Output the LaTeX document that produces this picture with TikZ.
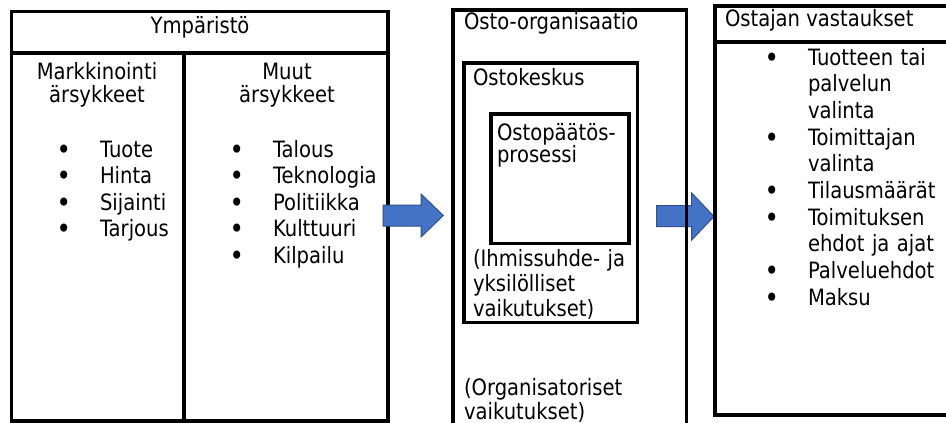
\documentclass[tikz,border=0pt]{standalone}
\usepackage{fontspec}
\setmainfont{DejaVu Sans}[FakeStretch=0.87]
\definecolor{arrowfill}{HTML}{4472C4}
\definecolor{arrowline}{HTML}{2F528F}
\newcommand\bul{\llap{\raisebox{-2pt}{\fontsize{28}{0}\selectfont •}\hspace{29pt}}}
\begin{document}
\begin{tikzpicture}[x=1pt,y=-1pt,
  box/.style={draw=black,line width=3.2pt},
  txt/.style={inner sep=0pt,outer sep=0pt,font=\fontsize{22.5}{22.7}\selectfont},
  lst/.style={txt,anchor=base west,text width=150pt,align=left,font=\fontsize{22.5}{26.7}\selectfont},
  blockarrow/.style={fill=arrowfill,draw=arrowline,line width=1pt}]
\useasboundingbox[fill=white] (0,0) rectangle (946,423);
% left box
\draw[box] (11.5,11.5) rectangle (388,421);
\draw[box] (11.5,53) -- (388,53);
\draw[box] (184,53) -- (184,421);
\node[txt,anchor=base] (ymp) at (200,33) {Ympäristö};
\node[txt,anchor=base,text width=160pt,align=center] (mark) at (97,79.3) {Markkinointi\\ärsykkeet};
\node[txt,anchor=base,text width=160pt,align=center] (muut) at (287,79.3) {Muut\\ärsykkeet};
\node[lst] (l1) at (100,157) {\bul Tuote};
\node[lst] (l2) at (100,183.5) {\bul Hinta};
\node[lst] (l3) at (100,210) {\bul Sijainti};
\node[lst] (l4) at (100,236.5) {\bul Tarjous};
\node[lst] (r1) at (273,157) {\bul Talous};
\node[lst] (r2) at (273,183.5) {\bul Teknologia};
\node[lst] (r3) at (273,210) {\bul Politiikka};
\node[lst] (r4) at (273,236.5) {\bul Kulttuuri};
\node[lst] (r5) at (273,263) {\bul Kilpailu};
% arrow 1
\draw[blockarrow] (383,205) -- (421,205) -- (421,194) -- (443.3,215.5) -- (421,237) -- (421,226) -- (383,226) -- cycle;
% arrow 2 (below middle box edge)
\draw[blockarrow] (656.7,205.7) -- (691.7,205.7) -- (691.7,193) -- (714,216.5) -- (691.7,240) -- (691.7,226.7) -- (656.7,226.7) -- cycle;
% middle box
\draw[box] (453,440) -- (453,10) -- (686.5,10) -- (686.5,440);
\node[txt,anchor=base west] (osto) at (464,30) {Osto-organisaatio};
\draw[box] (464,63) rectangle (637.5,322.5);
\node[txt,anchor=base west] (keskus) at (473,85) {Ostokeskus};
\draw[box] (491,114) rectangle (629,243.5);
\node[txt,anchor=base west,text width=130pt,align=left] (paatos) at (497,140) {Ostopäätös-\\prosessi};
\node[txt,anchor=base west,text width=165pt,align=left,font=\fontsize{22.5}{25}\selectfont] (ihm) at (473,266.7) {(Ihmissuhde- ja\\yksilölliset\\vaikutukset)};
\node[txt,anchor=base west,text width=200pt,align=left,font=\fontsize{22.5}{24}\selectfont] (org) at (464,395) {(Organisatoriset\\vaikutukset)};
% right box
\draw[box] (960,6) -- (715,6) -- (715,415) -- (960,415);
\draw[box] (715,42) -- (960,42);
\node[txt,anchor=base west] (ostajan) at (725,26) {Ostajan vastaukset};
\node[lst] (v1) at (808,65) {\bul Tuotteen tai\\palvelun\\valinta};
\node[lst] (v2) at (808,145.1) {\bul Toimittajan\\valinta};
\node[lst] (v3) at (808,198.5) {\bul Tilausmäärät};
\node[lst] (v4) at (808,225.2) {\bul Toimituksen\\ehdot ja ajat};
\node[lst] (v5) at (808,278.6) {\bul Palveluehdot};
\node[lst] (v6) at (808,305.3) {\bul Maksu};
\end{tikzpicture}
\end{document}
